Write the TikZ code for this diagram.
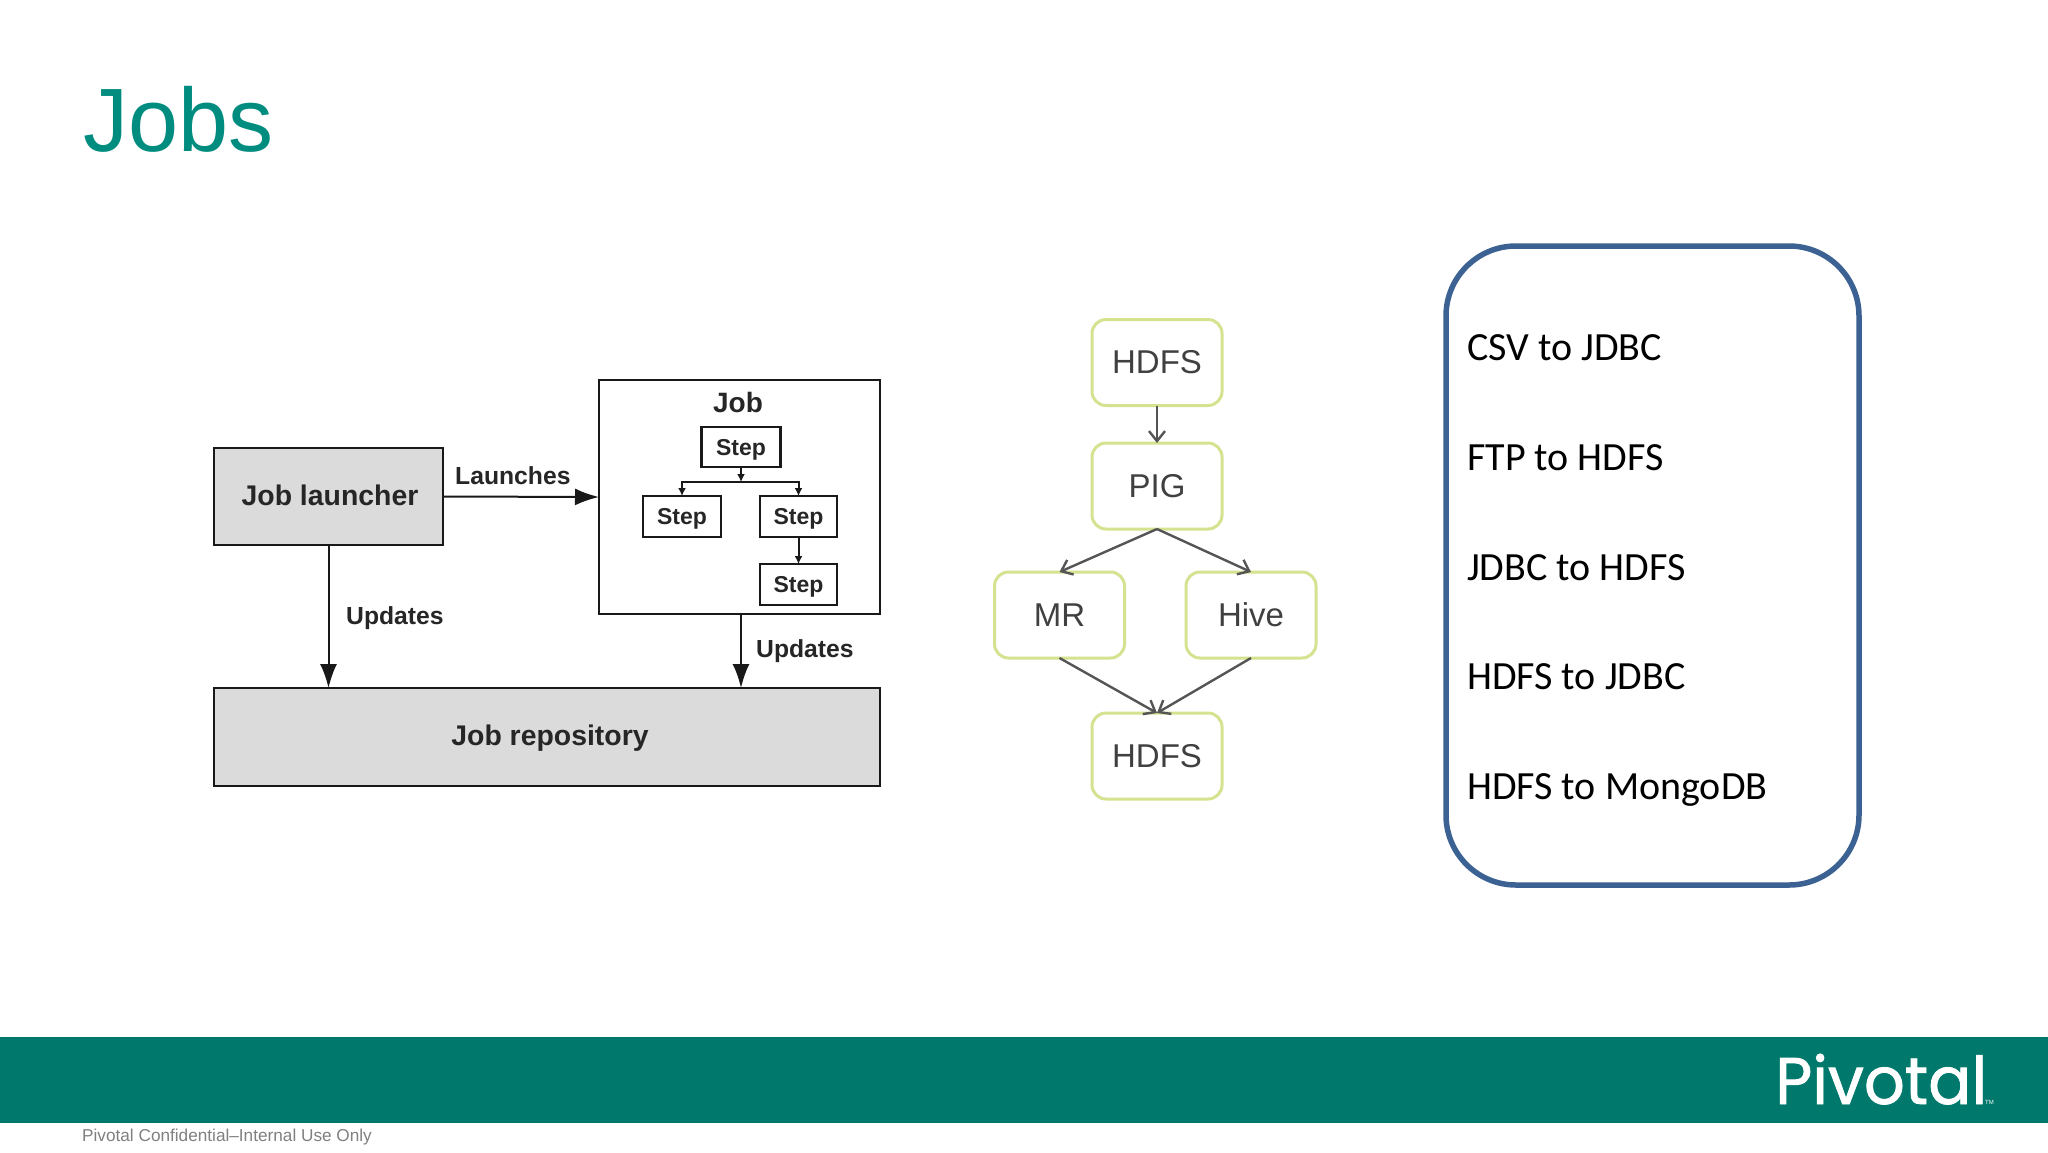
\documentclass[tikz,border=0pt]{standalone}
\usepackage{fontspec}
\usepackage{tikz}
\usetikzlibrary{arrows.meta}
\setmainfont{Liberation Sans}
\newfontfamily\listfont{Carlito}
\newfontfamily\logofont[FakeBold=1.2]{Poppins}
\definecolor{pivotalband}{HTML}{00786B}
\definecolor{pivotaltitle}{HTML}{008D7F}
\definecolor{boxgrey}{HTML}{DCDBDC}
\definecolor{flowgreen}{HTML}{D6E28F}
\definecolor{flowline}{HTML}{555555}
\definecolor{listblue}{HTML}{3B6293}
\tikzset{
	darkbox/.style={draw=black!90,line width=2.5pt,inner sep=0pt,outer sep=0pt,text=black!85,font=\bfseries\fontsize{28.4}{32}\selectfont,text height=17.5pt,text depth=0pt},
	greybox/.style={darkbox,fill=boxgrey},
	stepbox/.style={darkbox,fill=white,font=\bfseries\fontsize{23}{26}\selectfont,text height=16pt},
	flowbox/.style={draw=flowgreen,line width=3pt,rounded corners=14pt,fill=white,inner sep=0pt,outer sep=0pt,minimum width=130pt,minimum height=86pt,text=black!75,font=\fontsize{33}{36}\selectfont},
	listitem/.style={anchor=base west,inner sep=0pt,font=\listfont\fontsize{40}{44}\selectfont},
	edgelabel/.style={anchor=base west,inner sep=0pt,text=black!85,font=\bfseries\fontsize{24.7}{28}\selectfont},
	bigarrow/.style={line width=2pt,black!90,-{Latex[length=24pt,width=17pt]}},
	smallarrow/.style={line width=2pt,black!90,-{Latex[length=8pt,width=8pt]}},
	flowarrow/.style={line width=2.4pt,flowline,-{Straight Barb[length=10pt,width=16pt]}}
}
\begin{document}
\begin{tikzpicture}[x=1pt,y=-1pt]
		\useasboundingbox (0,0) rectangle (2048,1152);
		\fill[white] (0,0) rectangle (2048,1152);
		\fill[pivotalband] (0,1037) rectangle (2048,1123);
		\node[anchor=base west,inner sep=0pt,text=pivotaltitle,font=\fontsize{90}{100}\selectfont] (title) at (83,151) {Jobs};
		\node[anchor=base west,inner sep=0pt,text=black!50,font=\fontsize{17.2}{20}\selectfont] (footer) at (82,1141) {Pivotal Confidential--Internal Use Only};
		\node[anchor=base west,inner sep=0pt,text=white,xscale=.97,font=\logofont\fontsize{66}{72}\selectfont] (logo) at (1775,1104) {Pivotal};
		\node[anchor=base west,inner sep=0pt,text=white,font=\fontsize{6}{7}\selectfont] (trademark) at (1985,1104) {TM};
		
		\node[greybox,minimum width=229pt,minimum height=97pt] (launcher) at (328.5,496.5) {\hspace*{3pt}Job launcher};
		\node[draw=black!90,line width=2.5pt,inner sep=0pt,outer sep=0pt,fill=white,minimum width=281pt,minimum height=234pt] (jobbox) at (739.5,497) {};
		\node[greybox,minimum width=666pt,minimum height=98pt] (repo) at (547,737) {\hspace*{6pt}Job repository};
		\node[anchor=base,inner sep=0pt,text=black!85,font=\bfseries\fontsize{28}{32}\selectfont] (joblabel) at (738,412) {Job};
		
		\node[stepbox,minimum width=79pt,minimum height=40pt] (stepa) at (741,447) {Step};
		\node[stepbox,minimum width=78pt,minimum height=41pt] (stepb) at (682,516.5) {Step};
		\node[stepbox,minimum width=77pt,minimum height=41pt] (stepc) at (798.5,516.5) {Step};
		\node[stepbox,minimum width=77pt,minimum height=41pt] (stepd) at (798.5,584.5) {Step};
		
		\coordinate (fork) at (stepa.south |- 0,482);
		\draw[smallarrow] (stepa.south) -- (fork);
		\draw[smallarrow] (fork) -| (stepb.north);
		\draw[smallarrow] (fork) -| (stepc.north);
		\draw[smallarrow] (stepc.south) -- (stepd.north);
		
		\draw[bigarrow] (launcher.east) -- (jobbox.west);
		\draw[bigarrow] (launcher.south) -- (launcher.south |- repo.north);
		\draw[bigarrow] (stepa.south |- jobbox.south) -- (stepa.south |- repo.north);
		\node[edgelabel] (launches) at (455,484) {Launches};
		\node[edgelabel] (updatesa) at (346,624) {Updates};
		\node[edgelabel] (updatesb) at (756,657) {Updates};
		
		\node[flowbox] (hdfstop) at (1157,362.5) {HDFS};
		\node[flowbox] (pig) at (1157,486) {PIG};
		\node[flowbox] (mr) at (1059.5,615) {MR};
		\node[flowbox] (hive) at (1251,615) {Hive};
		\node[flowbox] (hdfsbottom) at (1157,756) {HDFS};
		\draw[flowarrow] (hdfstop.south) -- (pig.north);
		\draw[flowarrow] (pig.south) -- (mr.north);
		\draw[flowarrow] (pig.south) -- (hive.north);
		\draw[flowarrow] (mr.south) -- (hdfsbottom.north);
		\draw[flowarrow] (hive.south) -- (hdfsbottom.north);
		
		\node[draw=listblue,line width=5.5pt,rounded corners=70pt,minimum width=413pt,minimum height=639pt,inner sep=0pt] (listbox) at (1652.5,565.5) {};
		\node[listitem] (lista) at (1467,360) {CSV to JDBC};
		\node[listitem] (listb) at (1467,470) {FTP to HDFS};
		\node[listitem] (listc) at (1467,580) {JDBC to HDFS};
		\node[listitem] (listd) at (1467,689) {HDFS to JDBC};
		\node[listitem] (liste) at (1467,799) {HDFS to MongoDB};
	\end{tikzpicture}
\end{document}
